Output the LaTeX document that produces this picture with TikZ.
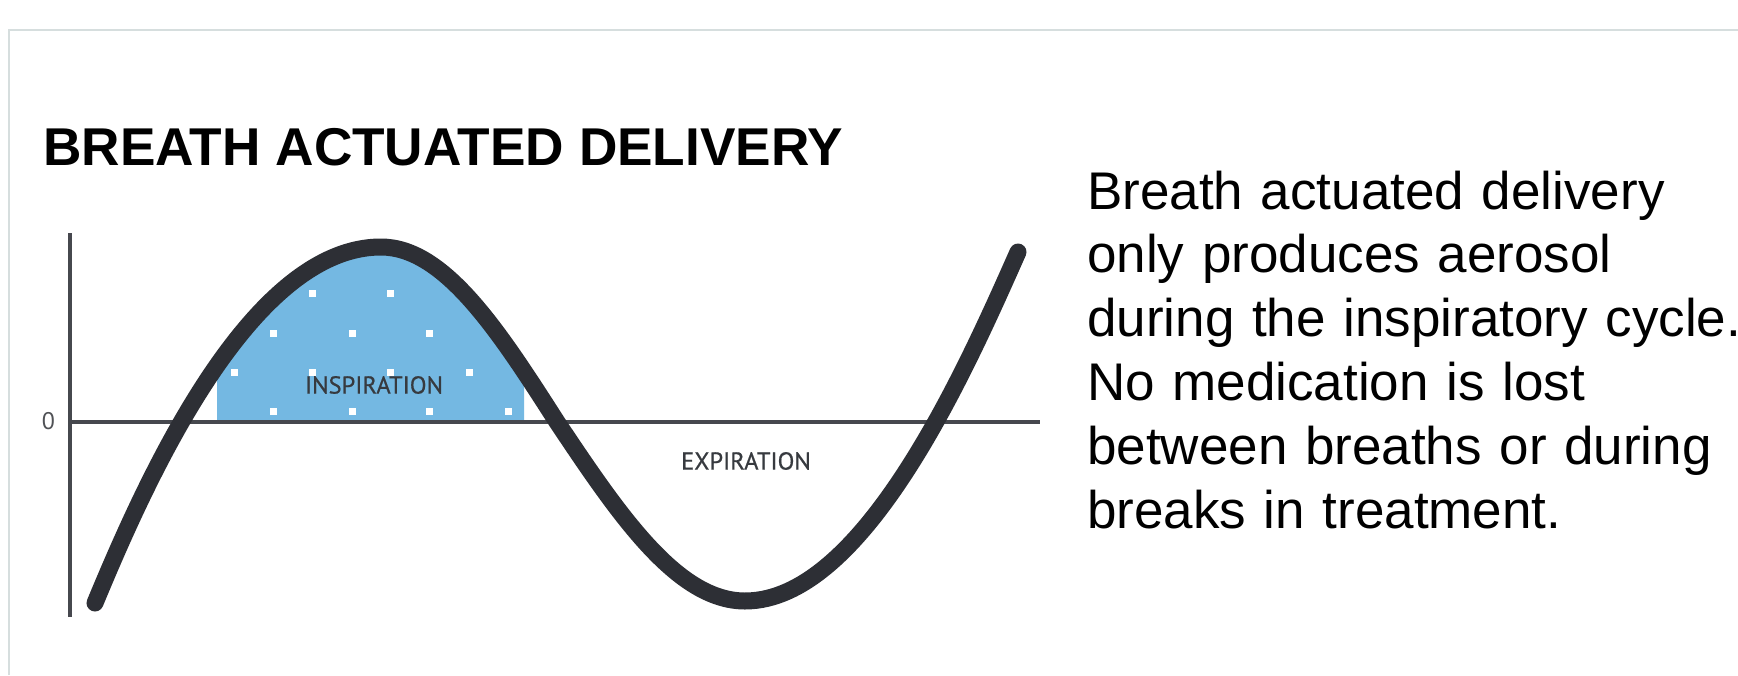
\documentclass[tikz,border=0pt]{standalone}
\usepackage{fontspec}
\setmainfont{Liberation Sans}
\newfontfamily\labfont[FakeBold=0.6]{PT Sans}
\newfontfamily\zerofont{PT Sans}
\definecolor{inspblue}{RGB}{116,184,226}
\definecolor{curvecol}{RGB}{45,47,53}
\definecolor{axiscol}{RGB}{70,72,78}
\definecolor{labcol}{RGB}{55,58,63}
\definecolor{zerocol}{RGB}{80,82,86}
\definecolor{framecol}{RGB}{214,222,222}
\tikzset{
  wave/.style={draw=curvecol, line width=17pt, line cap=round, line join=round},
  axisline/.style={draw=axiscol, line width=3.2pt},
  dotsq/.style={fill=white, draw=none, minimum size=7pt, inner sep=0pt, rectangle},
  graphlabel/.style={font=\labfont\fontsize{24.5}{28}\selectfont, text=labcol, inner sep=0pt},
}
\def\wavepath{(95,603) .. controls (140,495) and (246,247) .. (381,247)
  cos (557,422) sin (745,601)
  .. controls (865,601) and (968,364.5) .. (1018,252)}
\begin{document}
\begin{tikzpicture}[x=1pt, y=-1pt]
\useasboundingbox (0,0) rectangle (1738,675);
\fill[white] (0,0) rectangle (1738,675);
% frame
\draw[framecol, line width=2pt] (9,675) -- (9,30) -- (1738,30);

% title
\node[anchor=base west, inner sep=0pt, font=\bfseries\fontsize{53.2}{60}\selectfont] (title) at (43,165) {BREATH ACTUATED DELIVERY};

% fill under inspiratory lobe
\begin{scope}
\clip (217,0) rectangle (524,422);
\fill[inspblue] \wavepath -- (1018,700) -- (95,700) -- cycle;
\end{scope}

% dots
\foreach \px/\py in {312/293, 390/293,
                    273/333, 352/333, 429/333,
                    234/372, 312/372, 390/372, 469/372,
                    273/411, 352/411, 429/411, 508/411}
  \node[dotsq] at (\px,\py) {};

% axes
\coordinate (ytop) at (70,233);
\coordinate (ybot) at (70,617);
\coordinate (xleft) at (70,422);
\coordinate (xright) at (1040,422);
\draw[axisline] (ytop) -- (ybot);
\draw[axisline] (xleft) -- (xright);

% curve
\draw[wave] \wavepath;

% labels
\node[inner sep=0pt, text=zerocol, font=\zerofont\fontsize{24}{26}\selectfont] (zero) at (48.5,421.5) {0};
\node[graphlabel] (insp) at (374,385) {INSPIRATION};
\node[graphlabel] (exp) at (746,461) {EXPIRATION};

% description
\node[anchor=base west, inner sep=0pt, text width=680pt, align=left,
      font=\fontsize{53}{63.8}\selectfont] (desc) at (1087,209)
  {Breath actuated delivery\\
   only produces aerosol\\
   during the inspiratory cycle.\\
   No medication is lost\\
   between breaths or during\\
   breaks in treatment.};
\end{tikzpicture}
\end{document}
